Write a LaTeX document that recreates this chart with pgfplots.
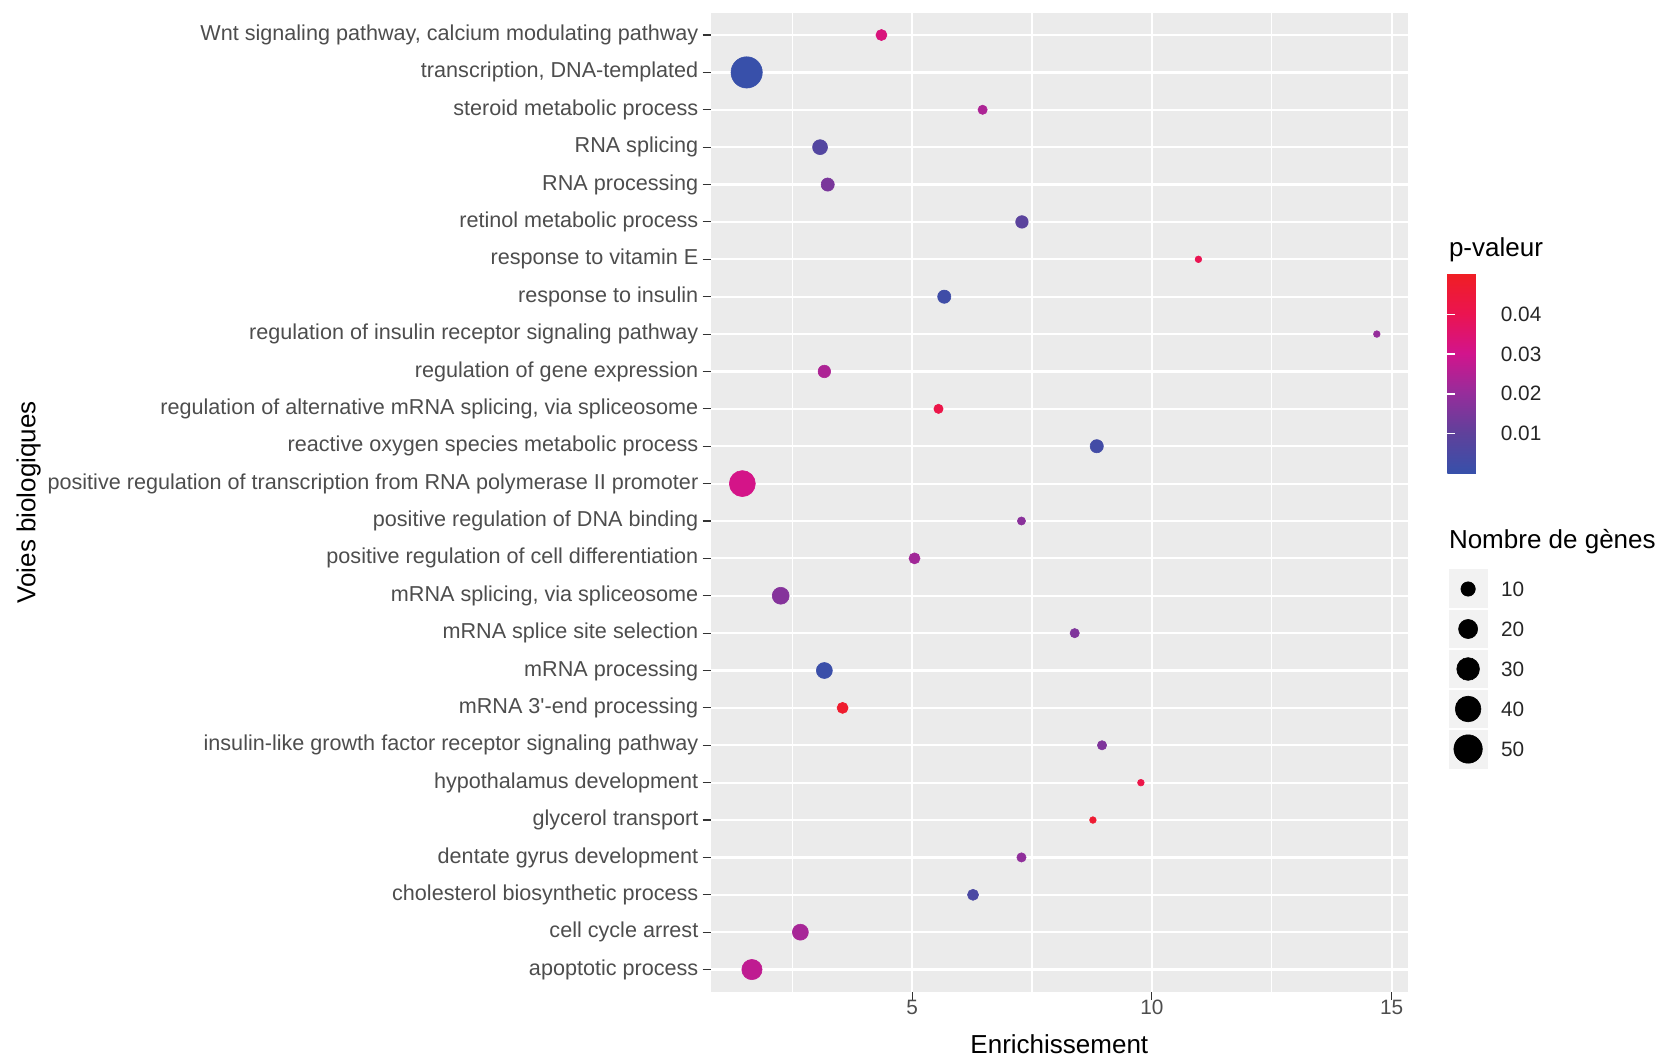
\documentclass[border=0pt]{standalone}
\usepackage{fontspec}
\setmainfont{Liberation Sans}
\usepackage{pgfplots}
\usepackage{pgfplotstable}
\pgfplotsset{compat=1.18}
\definecolor{panelbg}{HTML}{EBEBEB}
\definecolor{gray30}{HTML}{4D4D4D}
\definecolor{gray20}{HTML}{333333}
\definecolor{keybg}{HTML}{F2F2F2}
\pgfplotsset{
  colormap={pval}{rgb255=(55,80,170) rgb255=(95,65,155) rgb255=(150,45,155) rgb255=(210,20,140) rgb255=(235,20,80) rgb255=(240,30,35)}
}
\pgfplotstableread{
y x n p
26 4.36 5 0.033
25 1.55 62 0.0003
24 6.47 3 0.024
23 3.08 11 0.007
22 3.24 8 0.015
21 7.29 7 0.009
20 10.97 1 0.040
19 5.67 8 0.002
18 14.69 1 0.020
17 3.17 7 0.024
16 5.55 3 0.042
15 8.85 8 0.003
14 1.46 41 0.031
13 7.28 2 0.018
12 5.05 5 0.022
11 2.26 15 0.017
10 8.39 3 0.016
9 3.17 13 0.001
8 3.55 5 0.048
7 8.96 3 0.016
6 9.77 1 0.042
5 8.77 1 0.047
4 7.28 3 0.019
3 6.27 5 0.005
2 2.67 13 0.023
1 1.66 23 0.027
}\datatable
\pgfplotstableread{
x y n
0.5 5 10
0.5 4 20
0.5 3 30
0.5 2 40
0.5 1 50
}\sizetable
\begin{document}
\begin{tikzpicture}
\path[use as bounding box] (0,0) rectangle (829.5pt,528pt);
\begin{axis}[
  at={(355.35pt,32pt)}, anchor=south west,
  scale only axis, width=348.65pt, height=489.7pt,
  xmin=0.80, xmax=15.34, ymin=0.4, ymax=26.6,
  axis background/.style={fill=panelbg},
  axis line style={draw=none},
  xtick={5,10,15}, xticklabels={5,10,15},
  minor xtick={2.5,7.5,12.5},
  ytick={1,...,26},
  yticklabels={apoptotic process, cell cycle arrest, cholesterol biosynthetic process, dentate gyrus development, glycerol transport, hypothalamus development, insulin-like growth factor receptor signaling pathway, mRNA 3\textquotesingle-end processing, mRNA processing, mRNA splice site selection, {mRNA splicing, via spliceosome}, positive regulation of cell differentiation, positive regulation of DNA binding, positive regulation of transcription from RNA polymerase II promoter, reactive oxygen species metabolic process, {regulation of alternative mRNA splicing, via spliceosome}, regulation of gene expression, regulation of insulin receptor signaling pathway, response to insulin, response to vitamin E, retinol metabolic process, RNA processing, RNA splicing, steroid metabolic process, {transcription, DNA-templated}, {Wnt signaling pathway, calcium modulating pathway}},
  grid=both,
  major grid style={white, line width=1.1pt},
  minor grid style={white, line width=0.55pt},
  tick align=outside, tick pos=left,
  major tick length=4pt, minor tick length=0pt,
  tick style={gray20, line width=0.55pt},
  ticklabel style={font=\fontsize{10.4}{12}\selectfont, text=gray30},
  yticklabel style={inner sep=0pt, xshift=-2pt, font=\fontsize{10.8}{12}\selectfont},
  xticklabel style={inner sep=0pt},
  xlabel={Enrichissement}, ylabel={Voies biologiques},
  xlabel style={at={(axis description cs:0.5,-0.0531)}, anchor=center, inner sep=0pt, font=\fontsize{13}{15}\selectfont},
  ylabel style={at={(axis description cs:-0.978,0.5)}, anchor=center, inner sep=0pt, font=\fontsize{13}{15}\selectfont},
  colormap name=pval,
  point meta min=0, point meta max=0.0505,
  colorbar,
  colorbar style={
    at={(1.0566,0.5299)}, anchor=south west,
    scale only axis, width=20.5pt, height=100pt,
    ytick={0.01,0.02,0.03,0.04},
    yticklabels={0.01,0.02,0.03,0.04},
    scaled y ticks=false,
    yticklabel pos=right, ytick pos=both,
    tick align=inside, major tick length=4pt,
    tick style={white, line width=0.8pt},
    axis line style={draw=none},
    yticklabel style={font=\fontsize{10.4}{12}\selectfont, text=black!85, inner sep=0pt, xshift=6pt},
  },
]
\addplot[scatter, only marks, mark=*,
  scatter/use mapped color={draw=mapped color, fill=mapped color},
  mark options={line width=0.3pt},
  point meta=\thisrow{p},
  visualization depends on={\thisrow{n} \as \nn},
  scatter/@pre marker code/.append style={/tikz/mark size=0.77+0.895*sqrt(\nn)}]
  table[x=x, y=y] {\datatable};
\end{axis}
\node[anchor=west, inner sep=0pt, font=\fontsize{13}{15}\selectfont] at (724.3pt,403.1pt) {p-valeur};
\node[anchor=west, inner sep=0pt, font=\fontsize{13}{15}\selectfont] at (724.3pt,257.1pt) {Nombre de gènes};
\begin{axis}[
  at={(724.3pt,143.5pt)}, anchor=south west,
  scale only axis, width=19.5pt, height=100pt,
  xmin=0, xmax=1, ymin=0.5, ymax=5.5,
  axis background/.style={fill=keybg},
  axis line style={draw=none},
  xtick=\empty,
  ytick={1,...,5}, yticklabels={50,40,30,20,10},
  yticklabel pos=right, major tick length=0pt,
  yticklabel style={font=\fontsize{10.4}{12}\selectfont, text=black!85, inner sep=0pt, xshift=6.5pt},
  extra y ticks={1.5,2.5,3.5,4.5}, extra y tick labels={},
  extra y tick style={grid=major, major grid style={white, line width=0.8pt}},
]
\addplot[scatter, only marks, mark=*,
  scatter/use mapped color={draw=black, fill=black},
  mark options={line width=0.3pt},
  visualization depends on={\thisrow{n} \as \nn},
  scatter/@pre marker code/.append style={/tikz/mark size=0.77+0.895*sqrt(\nn)}]
  table[x=x, y=y] {\sizetable};
\end{axis}
\end{tikzpicture}
\end{document}
